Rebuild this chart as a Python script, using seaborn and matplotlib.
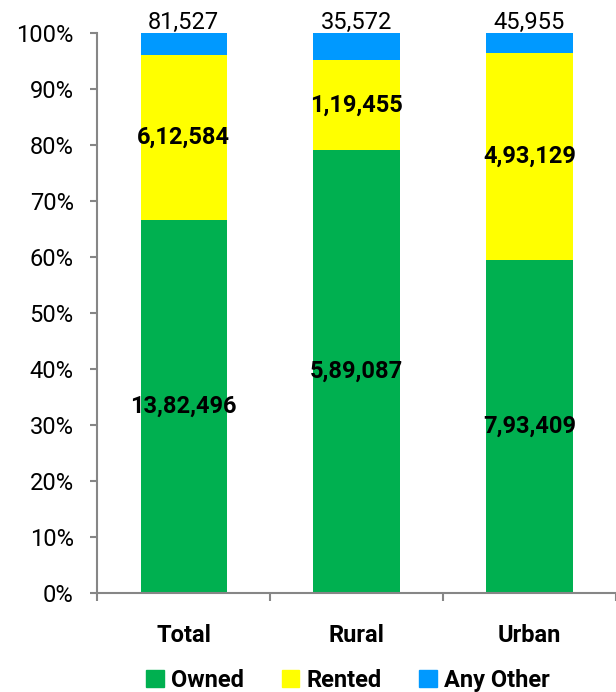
import matplotlib
matplotlib.use("Agg")
import matplotlib.pyplot as plt
import seaborn as sns
import pandas as pd
from matplotlib.patches import Patch

# data
areas = ["Total", "Rural", "Urban"]
owned = [1382496, 589087, 793409]
rented = [612584, 119455, 493129]
other = [81527, 35572, 45955]
owned_lbl = ["13,82,496", "5,89,087", "7,93,409"]
rented_lbl = ["6,12,584", "1,19,455", "4,93,129"]
other_lbl = ["81,527", "35,572", "45,955"]

sns.set_style("white")
plt.rcParams["font.family"] = ["Roboto", "DejaVu Sans"]
plt.rcParams["text.color"] = "black"
plt.rcParams["xtick.color"] = "black"
plt.rcParams["ytick.color"] = "black"

df = pd.DataFrame({"area": areas, "owned": owned, "rented": rented, "other": other})
tot = df["owned"] + df["rented"] + df["other"]
df["p_owned"] = df["owned"] / tot * 100
df["p_rented"] = df["rented"] / tot * 100
df["p_other"] = df["other"] / tot * 100
df["cum_rented"] = df["p_owned"] + df["p_rented"]
df["cum_other"] = df["cum_rented"] + df["p_other"]

green, yellow, blue = "#00B050", "#FFFF00", "#0099FF"

fig = plt.figure(figsize=(6.16, 6.92), dpi=100)
ax = fig.add_axes([0.158, 0.143, 0.842, 0.809])

# stacked by drawing cumulative heights from back to front
sns.barplot(data=df, x="area", y="cum_other", color=blue, width=0.5, ax=ax,
            saturation=1, linewidth=0)
sns.barplot(data=df, x="area", y="cum_rented", color=yellow, width=0.5, ax=ax,
            saturation=1, linewidth=0)
sns.barplot(data=df, x="area", y="p_owned", color=green, width=0.5, ax=ax,
            saturation=1, linewidth=0)

ax.set_xlim(-0.5, 2.5)
ax.set_ylim(0, 100)
ax.set_yticks(range(0, 101, 10))
ax.set_yticklabels([f"{v}%" for v in range(0, 101, 10)], fontsize=17)
ax.set_xticks(range(3))
ax.set_xticklabels(areas, fontsize=17, fontweight="bold")
ax.set_xlabel("")
ax.set_ylabel("")

# value labels
for i in range(3):
    ax.text(i, df["p_owned"][i] / 2, owned_lbl[i], ha="center", va="center",
            fontsize=17, fontweight="bold")
    ax.text(i, df["p_owned"][i] + df["p_rented"][i] / 2, rented_lbl[i],
            ha="center", va="center", fontsize=17, fontweight="bold")
    ax.annotate(other_lbl[i], (i, 100), xytext=(0, 8), textcoords="offset points",
                ha="center", va="center", fontsize=17, annotation_clip=False)

# axis styling like excel
gray = "#868686"
for s in ["top", "right"]:
    ax.spines[s].set_visible(False)
ax.spines["left"].set_color(gray)
ax.spines["bottom"].set_color(gray)
ax.spines["left"].set_linewidth(1.5)
ax.spines["bottom"].set_linewidth(1.5)
ax.tick_params(axis="y", length=5, width=1.5, color=gray, labelcolor="black",
               direction="out", left=True, pad=12)
ax.tick_params(axis="x", length=0, pad=22, labelcolor="black")
ax.set_xticks([-0.5, 0.5, 1.5, 2.5], minor=True)
ax.tick_params(axis="x", which="minor", length=6, width=1.5, color=gray, direction="out", bottom=True)

handles = [Patch(color=green, label="Owned"), Patch(color=yellow, label="Rented"),
           Patch(color=blue, label="Any Other")]
leg = fig.legend(handles=handles, loc="lower center", bbox_to_anchor=(0.565, -0.03), ncol=3,
                 frameon=False, prop={"size": 17, "weight": "bold"},
                 handlelength=0.75, handleheight=0.75, handletextpad=0.3, columnspacing=1.6)

fig.savefig("out.png", dpi=100)
